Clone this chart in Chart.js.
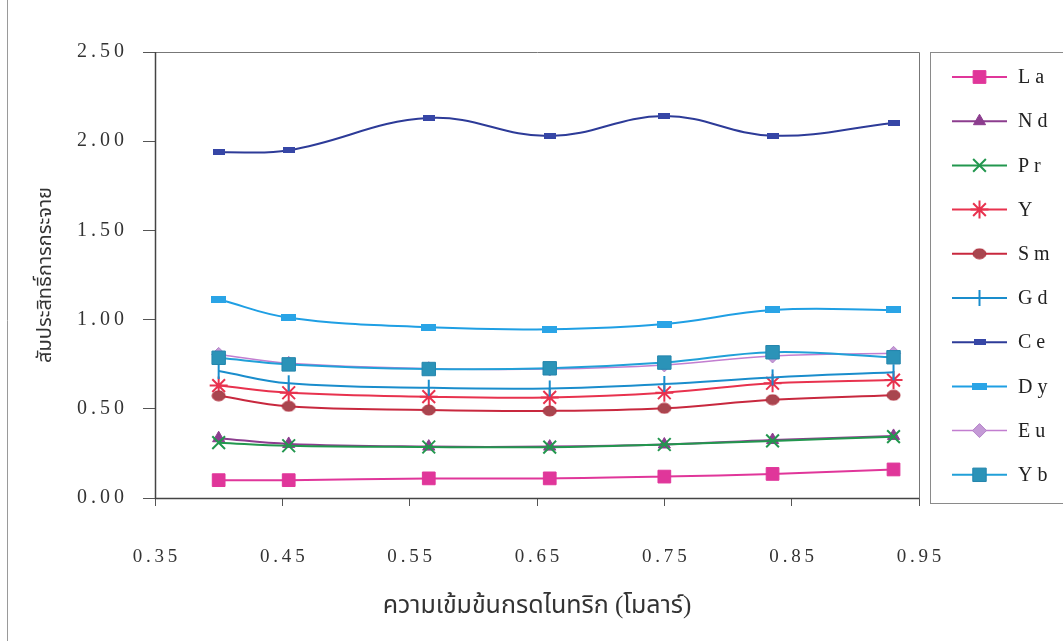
<!DOCTYPE html>
<html>
<head>
<meta charset="utf-8">
<script src="https://cdn.jsdelivr.net/npm/chart.js@4"></script>
<style>
    body { margin: 0; background: #fff; }
    #wrap { width: 1063px; height: 641px; }
</style>
</head>
<body>
<div id="wrap"><canvas id="kdChart" width="1063" height="641"></canvas></div>
<script>
// ความเข้มข้นกรดไนทริก (โมลาร์)
const concentrations = [0.40, 0.455, 0.565, 0.66, 0.75, 0.835, 0.93];

// สัมประสิทธิ์การกระจาย ของแต่ละธาตุ
const La = [0.10, 0.10, 0.11, 0.11, 0.12, 0.135, 0.16];
const Nd = [0.335, 0.303, 0.288, 0.288, 0.300, 0.325, 0.348];
const Pr = [0.310, 0.293, 0.286, 0.285, 0.300, 0.320, 0.344];
const Y  = [0.630, 0.590, 0.568, 0.564, 0.590, 0.643, 0.661];
const Sm = [0.573, 0.514, 0.493, 0.488, 0.503, 0.551, 0.576];
const Gd = [0.712, 0.643, 0.618, 0.614, 0.639, 0.676, 0.705];
const Ce = [1.938, 1.949, 2.130, 2.029, 2.141, 2.031, 2.102];
const Dy = [1.114, 1.011, 0.957, 0.946, 0.975, 1.054, 1.054];
const Eu = [0.805, 0.755, 0.725, 0.723, 0.746, 0.796, 0.811];
const Yb = [0.786, 0.749, 0.723, 0.727, 0.759, 0.817, 0.789];

const xTicks = [0.35, 0.45, 0.55, 0.65, 0.75, 0.85, 0.95];
const yTicks = [0.00, 0.50, 1.00, 1.50, 2.00, 2.50];

const serif = "'Liberation Serif', 'Times New Roman', serif";
const thai = "'Liberation Serif', 'Noto Sans Thai', 'Loma', 'Garuda', 'Norasi', sans-serif";

// ตัวเลขบนแกนเว้นระยะระหว่างตัวอักษร
const spaced = s => s.split('').join('\u2009');

// มาร์กเกอร์รูปแท่งแนวนอนและวงรี
function barMarker(w, h, color) {
    const c = document.createElement('canvas');
    c.width = w;
    c.height = h;
    const g = c.getContext('2d');
    g.fillStyle = color;
    g.fillRect(0, 0, w, h);
    return c;
}

function ellipseMarker(w, h, fill, stroke) {
    const c = document.createElement('canvas');
    c.width = w;
    c.height = h;
    const g = c.getContext('2d');
    g.beginPath();
    g.ellipse(w / 2, h / 2, w / 2 - 1, h / 2 - 1, 0, 0, Math.PI * 2);
    g.fillStyle = fill;
    g.fill();
    g.strokeStyle = stroke;
    g.lineWidth = 1;
    g.stroke();
    return c;
}

function series(label, data, color, style, extra) {
    return Object.assign({
        label: label,
        data: data.map((v, i) => ({ x: concentrations[i], y: v })),
        borderColor: color,
        backgroundColor: color,
        pointBackgroundColor: color,
        pointBorderColor: color,
        borderWidth: 2,
        pointStyle: style,
        pointRadius: 7,
        pointBorderWidth: 1,
        tension: 0.4,
        fill: false,
    }, extra || {});
}

const datasets = [
    series('La', La, '#e0369a', 'rect', { pointRadius: 9 }),
    series('Nd', Nd, '#8c3d8e', 'triangle', { pointRadius: 7 }),
    series('Pr', Pr, '#22974e', 'crossRot', { pointRadius: 9, pointBorderWidth: 2 }),
    series('Y', Y, '#e8324e', 'star', { pointRadius: 9, pointBorderWidth: 2 }),
    series('Sm', Sm, '#c8283e', ellipseMarker(15, 12, '#a8464f', '#b0303e')),
    series('Gd', Gd, '#1a8dcc', 'line', { pointRadius: 8, pointRotation: 90, pointBorderWidth: 2 }),
    series('Ce', Ce, '#2d3b98', barMarker(12, 6, '#3646a6')),
    series('Dy', Dy, '#1f9fe4', barMarker(15, 7, '#2aa4e6')),
    series('Eu', Eu, '#c27ed0', 'rectRot', { pointRadius: 7, borderWidth: 1.5, pointBackgroundColor: '#c49ad6', pointBorderColor: '#b482c8' }),
    series('Yb', Yb, '#21a0d8', 'rect', { pointRadius: 9.5, pointBackgroundColor: '#2b93b8', pointBorderColor: '#2586ad' }),
];
// ซีรีส์หลังวาดทับซีรีส์ก่อนหน้า
datasets.forEach((ds, i) => { ds.order = datasets.length - i; });

// กรอบพื้นที่กราฟ
const plotFrame = {
    id: 'plotFrame',
    afterDraw(chart) {
        const { ctx, chartArea: a } = chart;
        ctx.save();
        ctx.lineWidth = 1;
        ctx.strokeStyle = '#777';
        ctx.beginPath();
        ctx.moveTo(a.left + 0.5, a.top + 0.5);
        ctx.lineTo(a.right + 0.5, a.top + 0.5);
        ctx.lineTo(a.right + 0.5, a.bottom + 0.5);
        ctx.stroke();
        ctx.strokeStyle = '#444';
        ctx.lineWidth = 1.5;
        ctx.beginPath();
        ctx.moveTo(a.left + 0.5, a.top);
        ctx.lineTo(a.left + 0.5, a.bottom + 0.5);
        ctx.lineTo(a.right, a.bottom + 0.5);
        ctx.stroke();
        // เส้นขอบด้านซ้ายของรูป
        ctx.strokeStyle = '#9a9a9a';
        ctx.lineWidth = 1;
        ctx.beginPath();
        ctx.moveTo(7.5, 0);
        ctx.lineTo(7.5, 641);
        ctx.stroke();
        ctx.restore();
    }
};

// คำอธิบายสัญลักษณ์ด้านขวา
const sideLegend = {
    id: 'sideLegend',
    afterDraw(chart) {
        const ctx = chart.ctx;
        ctx.save();
        ctx.strokeStyle = '#8a8a8a';
        ctx.lineWidth = 1;
        ctx.strokeRect(930.5, 52.5, 145, 451);
        chart.data.datasets.forEach((ds, i) => {
            const y = 77 + i * 44.2;
            ctx.strokeStyle = ds.borderColor;
            ctx.lineWidth = ds.borderWidth;
            ctx.beginPath();
            ctx.moveTo(952, y);
            ctx.lineTo(1007, y);
            ctx.stroke();
            ctx.fillStyle = ds.pointBackgroundColor;
            ctx.strokeStyle = ds.pointBorderColor;
            ctx.lineWidth = ds.pointBorderWidth;
            Chart.helpers.drawPoint(ctx, {
                pointStyle: ds.pointStyle,
                radius: ds.pointRadius,
                rotation: ds.pointRotation || 0,
                borderWidth: ds.pointBorderWidth,
            }, 979.5, y);
            ctx.fillStyle = '#222';
            ctx.font = '20px ' + serif;
            ctx.letterSpacing = '5px';
            ctx.textBaseline = 'middle';
            ctx.fillText(ds.label, 1018, y + 1);
        });
        ctx.restore();
    }
};

const ctx = document.getElementById('kdChart').getContext('2d');
new Chart(ctx, {
    type: 'line',
    data: { datasets: datasets },
    options: {
        responsive: false,
        animation: false,
        devicePixelRatio: 1,
        layout: { padding: { top: 52, right: 144, left: 0, bottom: 0 } },
        plugins: {
            legend: { display: false },
            tooltip: { enabled: false },
        },
        scales: {
            x: {
                type: 'linear',
                min: 0.35,
                max: 0.95,
                afterFit: scale => { scale.height = 143; },
                afterBuildTicks: scale => { scale.ticks = xTicks.map(v => ({ value: v })); },
                ticks: {
                    padding: 40,
                    maxRotation: 0,
                    color: '#333',
                    font: { family: serif, size: 19 },
                    callback: v => spaced(v.toFixed(2)),
                },
                grid: { drawOnChartArea: false, tickLength: 8, color: '#555' },
                border: { display: false },
                title: {
                    display: true,
                    text: 'ความเข้มข้นกรดไนทริก (โมลาร์)',
                    color: '#333',
                    font: { family: thai, size: 25 },
                    padding: { top: 0, bottom: 20 },
                },
            },
            y: {
                min: 0,
                max: 2.5,
                afterFit: scale => { scale.width = 155; },
                afterBuildTicks: scale => { scale.ticks = yTicks.map(v => ({ value: v })); },
                ticks: {
                    padding: 19,
                    color: '#333',
                    font: { family: serif, size: 20 },
                    callback: v => spaced(v.toFixed(2)),
                },
                grid: { drawOnChartArea: false, tickLength: 12, color: '#555' },
                border: { display: false },
                title: {
                    display: true,
                    text: 'สัมประสิทธิ์การกระจาย',
                    color: '#333',
                    font: { family: thai, size: 20 },
                    padding: { top: 34, bottom: 0 },
                },
            },
        },
    },
    plugins: [plotFrame, sideLegend],
});
</script>
</body>
</html>
